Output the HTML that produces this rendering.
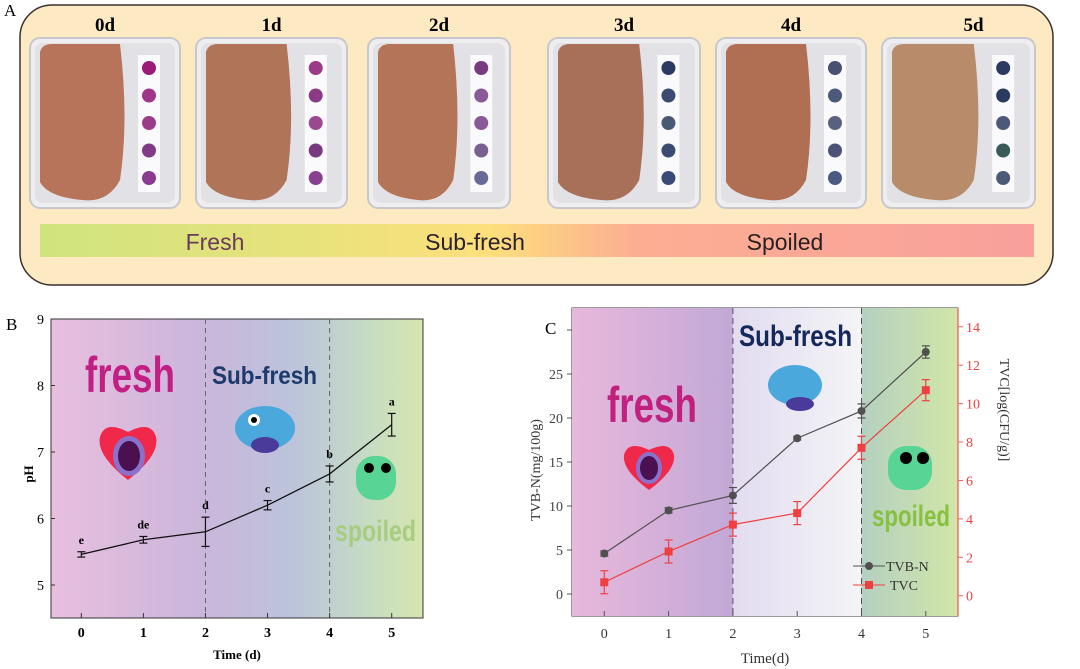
<!DOCTYPE html>
<html><head><meta charset="utf-8"><style>
html,body{margin:0;padding:0;background:#fff;width:1080px;height:669px;overflow:hidden}
svg{display:block;font-family:"Liberation Serif",serif}
</style></head><body>
<svg id="fig" width="1080" height="669" viewBox="0 0 1080 669" xmlns="http://www.w3.org/2000/svg">
<defs>
<linearGradient id="barG" x1="0" x2="1" y1="0" y2="0">
<stop offset="0" stop-color="#cfe47e"/><stop offset="0.25" stop-color="#e6e27c"/><stop offset="0.45" stop-color="#fde07c"/><stop offset="0.6" stop-color="#fcae92"/><stop offset="1" stop-color="#f8a09c"/></linearGradient>
<linearGradient id="bgB" x1="0" x2="1" y1="0" y2="0">
<stop offset="0" stop-color="#e8bfdf"/><stop offset="0.4" stop-color="#cbb6db"/><stop offset="0.65" stop-color="#bcc3db"/><stop offset="0.85" stop-color="#c6dcc4"/><stop offset="1" stop-color="#d6e6ae"/></linearGradient>
<linearGradient id="bgC1" x1="0" x2="1"><stop offset="0" stop-color="#e8b8dc"/><stop offset="1" stop-color="#c2a8d6"/></linearGradient>
<linearGradient id="bgC2" x1="0" x2="1"><stop offset="0" stop-color="#e2dcf0"/><stop offset="1" stop-color="#f4f4f6"/></linearGradient>
<linearGradient id="bgC3" x1="0" x2="1"><stop offset="0" stop-color="#b4d0c0"/><stop offset="1" stop-color="#d2e6a8"/></linearGradient>
</defs>

<!-- Panel A -->
<text x="4" y="16" font-size="17">A</text>
<rect x="20" y="5" width="1033" height="280" rx="32" fill="#fde9c2" stroke="#3a3030" stroke-width="1.5"/>
<g id="trays"></g>
<rect x="40" y="224" width="994" height="33" fill="url(#barG)"/>
<g font-family="'Liberation Sans',sans-serif" font-size="23">
<text x="215" y="250" text-anchor="middle" fill="#6a3a5a">Fresh</text>
<text x="475" y="250" text-anchor="middle" fill="#2a2030">Sub-fresh</text>
<text x="785" y="250" text-anchor="middle" fill="#2a2020">Spoiled</text>
</g>

<!-- Panel B -->
<text x="6" y="330" font-size="17">B</text>
<rect x="51" y="319" width="372" height="299" fill="url(#bgB)" stroke="#333" stroke-width="1"/>
<g id="chartB"></g>

<!-- Panel C -->
<rect x="572" y="308" width="386" height="308" fill="none" stroke="#333"/>
<g id="chartC"></g>
<text x="545" y="334" font-size="17">C</text>
</svg>
<script>
const NS="http://www.w3.org/2000/svg";
function mk(tag,attrs,parent,txt){const e=document.createElementNS(NS,tag);for(const k in attrs)e.setAttribute(k,attrs[k]);if(txt!==undefined)e.textContent=txt;parent.appendChild(e);return e;}

// ---- Panel A trays ----
const trayDays=["0d","1d","2d","3d","4d","5d"];
const trayX=[30,196,368,548,716,882];
const trayW=[150,151,142,152,150,153];
const meatCol=["#b8745a","#b07458","#b47458","#a87058","#b06e52","#b88c6a"];
const dotCols=[["#9a1a78","#a0358a","#9a3c8a","#803a86","#8a3a90"],["#9a3a88","#8a3a86","#9a4890","#7a3a80","#8a4090"],["#7a3a80","#8a5a98","#8a5a98","#7a6090","#6a6a98"],["#2a3a60","#3a4a70","#4a5a72","#3a4a70","#3a4a78"],["#4a5070","#4a5a78","#5a6080","#4a5278","#4a5a80"],["#2a3a60","#2a3a60","#4a5a78","#3a5a5a","#4a5a78"]];
const trays=document.getElementById('trays');
trayDays.forEach((d,i)=>{
  const x=trayX[i],w=trayW[i];
  const g=mk('g',{},trays);
  
  
  const t=mk('text',{x:x+w/2+(i==5?15:0),y:31,'font-size':19,'font-weight':'bold','text-anchor':'middle'},g,d);
  
  
  mk('rect',{x:x,y:38,width:w,height:170,rx:10,fill:'#eeeef0',stroke:'#c8c8cc','stroke-width':2},g);
  mk('rect',{x:x+5,y:43,width:w-10,height:160,rx:8,fill:'#e2e2e6'},g);
  mk('path',{d:`M${x+10} 52 Q${x+12} 44 ${x+22} 44 L${x+w*0.6} 44 Q${x+w*0.66} 120 ${x+w*0.6} 180 Q${x+w*0.52} 203 ${x+w*0.35} 200 Q${x+18} 197 ${x+10} 182 Z`,fill:meatCol[i]},g);
  const sx=x+w*0.72;
  mk('rect',{x:sx,y:55,width:22,height:137,fill:'#fafafc'},g);
  for(let k=0;k<5;k++){mk('circle',{cx:sx+11,cy:68+k*27.5,r:7,fill:dotCols[i][k]},g);}
});

// ---- Panel B ----
const bDays=[0,1,2,3,4,5];
const phVals=[5.46,5.68,5.8,6.2,6.67,7.41];
const phErr=[0.04,0.05,0.22,0.07,0.12,0.17];
const phLetters=["e","de","d","c","b","a"];
const phTicks=[5,6,7,8,9];
const gB=document.getElementById('chartB');
const bx=v=>81.3+v*62.08, by=v=>585-(v-5)*66.5;
[2,4].forEach(v=>{const l=mk('line',{x1:bx(v),x2:bx(v),y1:319,y2:618,stroke:'#666','stroke-dasharray':'5,4'},gB);});
const SF='Liberation Sans,sans-serif';
mk('text',{x:85,y:392,'font-size':50,'font-weight':'bold',fill:'#c21f84',textLength:90,lengthAdjust:'spacingAndGlyphs','font-family':SF},gB,'fresh');
mk('text',{x:212,y:384,'font-size':25,'font-weight':'bold',fill:'#1e3a6a',textLength:105,lengthAdjust:'spacingAndGlyphs','font-family':SF},gB,'Sub-fresh');
mk('text',{x:335,y:541,'font-size':30,'font-weight':'bold',fill:'#a8cc80',textLength:81,lengthAdjust:'spacingAndGlyphs','font-family':SF},gB,'spoiled');
// emoji
mk('path',{d:'M128 480 Q96 455 100 437 Q105 420 128 432 Q151 420 156 437 Q160 455 128 480Z',fill:'#f0284a'},gB);
mk('ellipse',{cx:129,cy:456,rx:16,ry:20,fill:'#8a72cc'},gB);mk('ellipse',{cx:129,cy:456,rx:11,ry:15,fill:'#4a1050'},gB);
mk('ellipse',{cx:265,cy:428,rx:30,ry:22,fill:'#4aa8dc'},gB);mk('ellipse',{cx:265,cy:445,rx:14,ry:8,fill:'#4a3a9a'},gB);
mk('circle',{cx:254,cy:420,r:6,fill:'#fff'},gB);mk('circle',{cx:254,cy:420,r:3,fill:'#000'},gB);
mk('rect',{x:356,y:456,width:40,height:44,rx:18,fill:'#58d494'},gB);
mk('circle',{cx:369,cy:468,r:5,fill:'#000'},gB);mk('circle',{cx:386,cy:468,r:5,fill:'#000'},gB);
let pts=phVals.map((v,i)=>bx(bDays[i])+','+by(v)).join(' ');
const pl=mk('polyline',{points:pts,fill:'none',stroke:'#111','stroke-width':1.3},gB);


phVals.forEach((v,i)=>{const x=bx(bDays[i]);const g=mk('g',{stroke:'#111','stroke-width':1.2},gB);


mk('line',{x1:x,x2:x,y1:by(v-phErr[i]),y2:by(v+phErr[i])},g);
mk('line',{x1:x-4,x2:x+4,y1:by(v-phErr[i]),y2:by(v-phErr[i])},g);
mk('line',{x1:x-4,x2:x+4,y1:by(v+phErr[i]),y2:by(v+phErr[i])},g);
mk('text',{x:x,y:by(v+phErr[i])-8,'font-size':12,'font-weight':'bold','text-anchor':'middle'},gB,phLetters[i]);});
phTicks.forEach(t=>{mk('line',{x1:51,x2:55,y1:by(t),y2:by(t),stroke:'#333'},gB);const tx=mk('text',{x:44,y:by(t)+5,'font-size':14,'text-anchor':'end'},gB,t);});
bDays.forEach(d=>{mk('line',{x1:bx(d),x2:bx(d),y1:618,y2:613,stroke:'#333'},gB);mk('text',{x:bx(d),y:637,'font-size':14,'font-weight':'bold','text-anchor':'middle'},gB,d);});
mk('text',{x:237,y:659,'font-size':13,'font-weight':'bold','text-anchor':'middle'},gB,'Time (d)');
mk('text',{x:0,y:0,'font-size':13,'font-weight':'bold','text-anchor':'middle',transform:'translate(33,474) rotate(-90)'},gB,'pH');

// ---- Panel C ----
const cDays=[0,1,2,3,4,5];
const tvbn=[4.6,9.5,11.2,17.7,20.8,27.5];
const tvbnErr=[0.3,0.3,0.9,0.2,0.8,0.7];
const tvc=[0.7,2.3,3.7,4.3,7.7,10.7];
const tvcErr=[0.6,0.6,0.6,0.6,0.6,0.55];
const leftTicks=[0,5,10,15,20,25];
const rightTicks=[0,2,4,6,8,10,12,14];
const gC=document.getElementById('chartC');
const cx=v=>604.3+v*64.3, cyL=v=>594-v*8.8, cyR=v=>595.7-v*19.21;
mk('rect',{x:572,y:308,width:cx(2)-572,height:308,fill:'url(#bgC1)'},gC);
mk('rect',{x:cx(2),y:308,width:cx(4)-cx(2),height:308,fill:'url(#bgC2)'},gC);
mk('rect',{x:cx(4),y:308,width:958-cx(4),height:308,fill:'url(#bgC3)'},gC);
[2,4].forEach(v=>{const l=mk('line',{x1:cx(v),x2:cx(v),y1:308,y2:616,stroke:'#555','stroke-dasharray':'6,4'},gC);});
mk('text',{x:607,y:422,'font-size':50,'font-weight':'bold',fill:'#c0207e',textLength:90,lengthAdjust:'spacingAndGlyphs','font-family':SF},gC,'fresh');
mk('text',{x:739,y:346,'font-size':30,'font-weight':'bold',fill:'#14285a',textLength:113,lengthAdjust:'spacingAndGlyphs','font-family':SF},gC,'Sub-fresh');
mk('text',{x:872,y:526,'font-size':30,'font-weight':'bold',fill:'#88c040',textLength:78,lengthAdjust:'spacingAndGlyphs','font-family':SF},gC,'spoiled');
mk('path',{d:'M649 490 Q622 470 624 455 Q628 440 649 450 Q670 440 674 455 Q676 470 649 490Z',fill:'#f0284a'},gC);
mk('ellipse',{cx:649,cy:468,rx:13,ry:16,fill:'#8a72cc'},gC);mk('ellipse',{cx:649,cy:468,rx:9,ry:12,fill:'#4a1050'},gC);
mk('ellipse',{cx:795,cy:385,rx:27,ry:20,fill:'#4aa8dc'},gC);mk('ellipse',{cx:800,cy:404,rx:14,ry:7,fill:'#4a3a9a'},gC);
mk('rect',{x:888,y:446,width:44,height:44,rx:18,fill:'#58d494'},gC);
mk('circle',{cx:906,cy:458,r:6,fill:'#000'},gC);mk('circle',{cx:923,cy:458,r:6,fill:'#000'},gC);
function series(vals,errs,yf,col,name,sq){
  const p=mk('polyline',{points:vals.map((v,i)=>cx(cDays[i])+','+yf(v)).join(' '),fill:'none',stroke:col,'stroke-width':1.2},gC);
  
  
  vals.forEach((v,i)=>{const x=cx(cDays[i]);const g=mk('g',{stroke:col,'stroke-width':1.2},gC);
    
    
    mk('line',{x1:x,x2:x,y1:yf(v-errs[i]),y2:yf(v+errs[i])},g);
    mk('line',{x1:x-4,x2:x+4,y1:yf(v-errs[i]),y2:yf(v-errs[i])},g);
    mk('line',{x1:x-4,x2:x+4,y1:yf(v+errs[i]),y2:yf(v+errs[i])},g);
    if(sq)mk('rect',{x:x-4,y:yf(v)-4,width:8,height:8,fill:col,stroke:'none'},g);
    else mk('circle',{cx:x,cy:yf(v),r:4,fill:col,stroke:'none'},g);});
}
series(tvbn,tvbnErr,cyL,'#505050','tvbn',false);
series(tvc,tvcErr,cyR,'#ee4040','tvc',true);
leftTicks.forEach(t=>{mk('line',{x1:572,x2:567,y1:cyL(t),y2:cyL(t),stroke:'#555'},gC);mk('text',{x:563,y:cyL(t)+5,'font-size':14,fill:'#444','text-anchor':'end'},gC,t);});
mk('line',{x1:567,x2:572,y1:cyL(30),y2:cyL(30),stroke:'#555'},gC);
mk('line',{x1:958,x2:958,y1:308,y2:616,stroke:'#ee6060','stroke-width':1.3},gC);
rightTicks.forEach(t=>{mk('line',{x1:958,x2:963,y1:cyR(t),y2:cyR(t),stroke:'#ee6060'},gC);mk('text',{x:966,y:cyR(t)+5,'font-size':14,fill:'#ee4040'},gC,t);});
cDays.forEach(d=>{mk('line',{x1:cx(d),x2:cx(d),y1:616,y2:611,stroke:'#555'},gC);mk('text',{x:cx(d),y:638,'font-size':14,fill:'#333','text-anchor':'middle'},gC,d);});
mk('text',{x:765,y:663,'font-size':15,fill:'#333','text-anchor':'middle'},gC,'Time(d)');
mk('text',{x:0,y:0,'font-size':14,fill:'#333','text-anchor':'middle',transform:'translate(540,470) rotate(-90)'},gC,'TVB-N(mg/100g)');
mk('text',{x:0,y:0,'font-size':14,fill:'#333','text-anchor':'middle',transform:'translate(1000,410) rotate(90)'},gC,'TVC[log(CFU/g)]');
const lg=mk('g',{},gC);


mk('line',{x1:853,x2:885,y1:566,y2:566,stroke:'#505050'},lg);mk('circle',{cx:869,cy:566,r:4,fill:'#505050'},lg);
mk('text',{x:886,y:571,'font-size':14,fill:'#333'},lg,'TVB-N');
mk('line',{x1:853,x2:885,y1:585,y2:585,stroke:'#ee4040'},lg);mk('rect',{x:865,y:581,width:8,height:8,fill:'#ee4040'},lg);
mk('text',{x:890,y:590,'font-size':14,fill:'#333'},lg,'TVC');
</script>
</body></html>
